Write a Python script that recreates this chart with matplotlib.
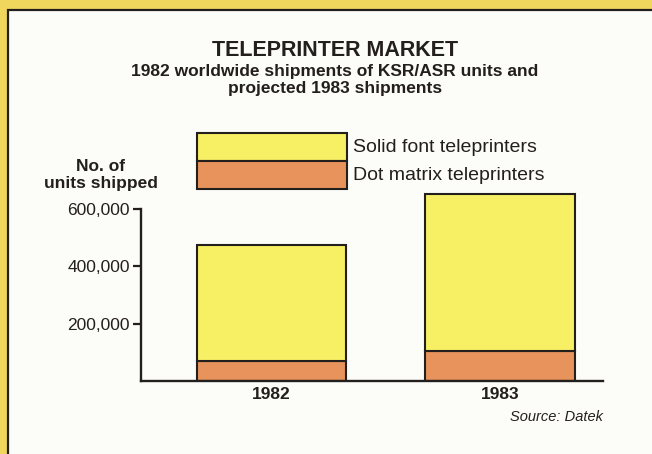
import matplotlib
matplotlib.use("Agg")
import matplotlib.pyplot as plt
from matplotlib.patches import Rectangle

# values (units shipped)
years = ["1982", "1983"]
dot_matrix = [70000, 105000]
solid_font = [405000, 547000]
y_ticks = [200000, 400000, 600000]
series = ["Solid font teleprinters", "Dot matrix teleprinters"]

# colours
frame_yellow = "#f1d65e"
paper = "#fcfcf8"
bar_yellow = "#f8f064"
bar_orange = "#e8935c"
ink = "#231f1c"

plt.rcParams["font.family"] = ["Liberation Sans", "DejaVu Sans"]

W, H = 652, 454
fig = plt.figure(figsize=(W / 100, H / 100), dpi=100, facecolor=frame_yellow)


def box(x0, y0, x1, y1):
    # pixel box (top-left origin) -> figure fraction rect
    return [x0 / W, 1 - y1 / H, (x1 - x0) / W, (y1 - y0) / H]


# white panel with the dark frame line on the top and left
fig.patches.append(Rectangle((8 / W, -0.1), 1.2, 1.1 - 10 / H,
                             transform=fig.transFigure, facecolor=paper,
                             edgecolor=ink, linewidth=1.6, zorder=-10))

# titles
fig.text(335 / W, 1 - 50 / H, "TELEPRINTER MARKET", ha="center", va="center",
         fontsize=15.5, fontweight="bold", color=ink)
fig.text(335 / W, 1 - 80 / H,
         "1982 worldwide shipments of KSR/ASR units and\nprojected 1983 shipments",
         ha="center", va="center", fontsize=12.5, fontweight="bold",
         color=ink, linespacing=1.1)

# axis title
fig.text(101 / W, 1 - 175 / H, "No. of\nunits shipped", ha="center",
         va="center", fontsize=12.5, fontweight="bold", color=ink,
         linespacing=1.1)

# main chart
ax = fig.add_axes(box(141, 189, 603, 381))
ax.set_facecolor("none")
x = [0, 1]
width = 0.656
ax.bar(x, dot_matrix, width, color=bar_orange, edgecolor=ink, linewidth=1.5)
ax.bar(x, solid_font, width, bottom=dot_matrix, color=bar_yellow,
       edgecolor=ink, linewidth=1.5)
ax.set_xlim(-0.571, 1.451)
ax.set_ylim(0, 670000)

for side in ["top", "right"]:
    ax.spines[side].set_visible(False)
ax.spines["left"].set_bounds(0, 600000)
ax.spines["left"].set_linewidth(1.7)
ax.spines["bottom"].set_linewidth(1.7)
ax.spines["left"].set_color(ink)
ax.spines["bottom"].set_color(ink)

ax.set_yticks(y_ticks)
ax.set_yticklabels([f"{v:,}" for v in y_ticks])
ax.tick_params(axis="y", direction="out", length=6, width=1.6, pad=2,
               labelsize=12.5, colors=ink)
ax.set_xticks(x)
ax.set_xticklabels(years, fontweight="bold")
ax.tick_params(axis="x", length=0, pad=4, labelsize=12.5, colors=ink)

# legend swatches
lax = fig.add_axes(box(197, 133, 347, 189))
lax.set_xlim(0, 1)
lax.set_ylim(0, 2)
lax.axis("off")
for i, (name, col) in enumerate(zip(series, [bar_yellow, bar_orange])):
    y0 = 1 - i
    lax.add_patch(Rectangle((0, y0), 1, 1, facecolor=col, edgecolor=ink,
                            linewidth=1.5, clip_on=False))
    lax.text(1.04, y0 + 0.5, name, ha="left", va="center", fontsize=14,
             color=ink)

fig.text(603 / W, 1 - 417 / H, "Source: Datek", ha="right", va="center",
         fontsize=10.5, style="italic", color=ink)

fig.savefig("out.png", dpi=100, facecolor=frame_yellow)
